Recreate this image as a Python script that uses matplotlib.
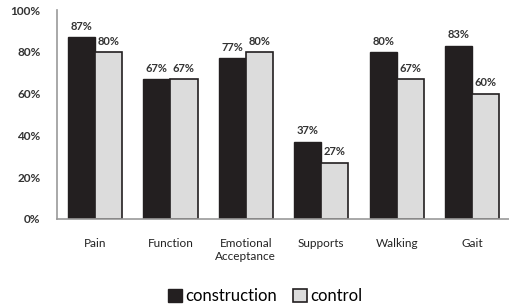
import matplotlib

matplotlib.use("Agg")
import matplotlib.pyplot as plt
import numpy as np

categories = ["Pain", "Function", "Emotional\nAcceptance", "Supports", "Walking", "Gait"]
construction = [87, 67, 77, 37, 80, 83]
control = [80, 67, 80, 27, 67, 60]

plt.rcParams["font.family"] = ["Lato", "DejaVu Sans"]

fig = plt.figure(figsize=(5.1, 3.07), dpi=100)
ax = fig.add_axes([0.112, 0.287, 0.888, 0.68])

x = np.arange(len(categories))
w = 0.36
b1 = ax.bar(x - w / 2, construction, w, color="#231f20", edgecolor="#231f20",
            linewidth=1, label="construction")
b2 = ax.bar(x + w / 2, control, w, color="#dcdcdc", edgecolor="#231f20",
            linewidth=1.2, label="control")

for bars, vals in ((b1, construction), (b2, control)):
    for rect, v in zip(bars, vals):
        ax.text(rect.get_x() + rect.get_width() / 2, v + 2.5, f"{v}%",
                ha="center", va="bottom", fontsize=8, fontweight="bold", color="#333333")

ax.set_xlim(-0.5, len(categories) - 0.5)
ax.set_ylim(0, 100)
ax.set_yticks(range(0, 101, 20))
ax.set_yticklabels([f"{t}%" for t in range(0, 101, 20)], fontsize=8.5,
                   fontweight="bold", color="#333333")
ax.set_xticks(x)
ax.set_xticklabels(categories, fontsize=8.5, color="#222222")
ax.tick_params(axis="both", length=0)
ax.tick_params(axis="y", pad=12)
ax.tick_params(axis="x", pad=14)
for s in ("top", "right"):
    ax.spines[s].set_visible(False)
for s in ("left", "bottom"):
    ax.spines[s].set_color("#999999")
    ax.spines[s].set_linewidth(1.2)

fig.legend(handles=[b1, b2], loc="center", bbox_to_anchor=(0.52, 0.035), ncol=2,
           frameon=False, fontsize=12, handlelength=0.8, handleheight=0.8,
           handletextpad=0.2, columnspacing=1.0)

fig.savefig("out.png", dpi=100)
